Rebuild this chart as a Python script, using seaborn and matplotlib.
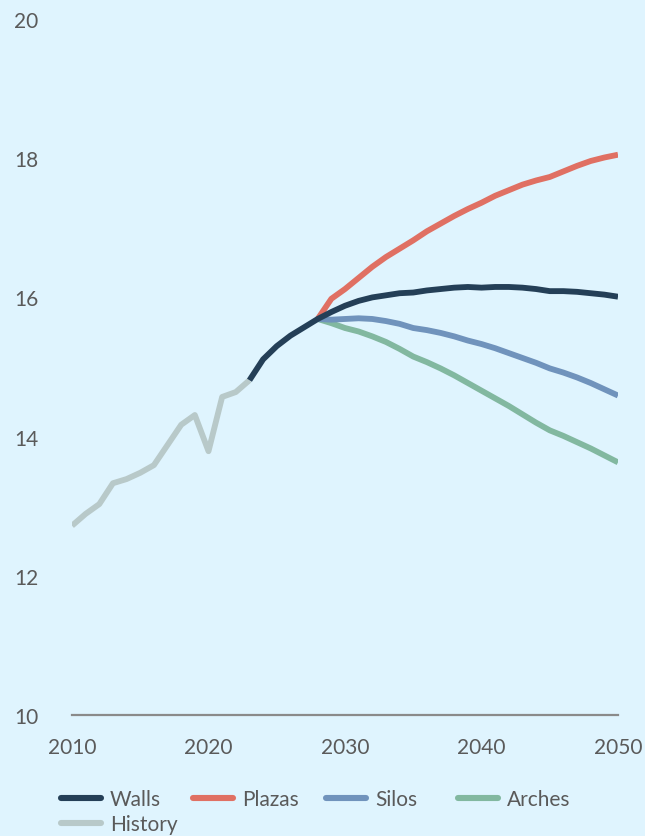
import matplotlib
matplotlib.use("Agg")
import matplotlib.pyplot as plt
import seaborn as sns
import pandas as pd
from matplotlib.lines import Line2D

# Historical series
history_years = list(range(2010, 2024))
history_vals = [12.72, 12.89, 13.03, 13.33, 13.39, 13.48, 13.59, 13.88, 14.17,
                14.31, 13.79, 14.57, 14.64, 14.81]

# Projection years and scenario values
walls_years = list(range(2023, 2051))
walls_vals = [14.81, 15.11, 15.30, 15.45, 15.57, 15.69, 15.79, 15.88, 15.95, 16.00,
              16.03, 16.06, 16.07, 16.10, 16.12, 16.14, 16.15, 16.14, 16.15, 16.15,
              16.14, 16.12, 16.09, 16.09, 16.08, 16.06, 16.04, 16.01]

scen_years = list(range(2028, 2051))
plazas_vals = [15.69, 15.98, 16.12, 16.28, 16.44, 16.58, 16.70, 16.82, 16.95, 17.06,
               17.17, 17.27, 17.36, 17.46, 17.54, 17.62, 17.68, 17.73, 17.81, 17.89,
               17.96, 18.01, 18.05]
silos_vals = [15.69, 15.68, 15.69, 15.70, 15.69, 15.66, 15.62, 15.56, 15.53, 15.49,
              15.44, 15.38, 15.33, 15.27, 15.20, 15.13, 15.06, 14.98, 14.92, 14.85,
              14.77, 14.68, 14.59]
arches_vals = [15.69, 15.63, 15.56, 15.51, 15.44, 15.36, 15.26, 15.15, 15.07, 14.98,
               14.88, 14.77, 14.66, 14.55, 14.44, 14.32, 14.20, 14.09, 14.01, 13.92,
               13.83, 13.73, 13.63]

series_order = ["Walls", "Plazas", "Silos", "Arches", "History"]
colors = ["#243f57", "#e07063", "#7093bc", "#82b8a0", "#b8c9c9"]
y_ticks = [10, 12, 14, 16, 18, 20]
x_ticks = [2010, 2020, 2030, 2040, 2050]

frames = [
    pd.DataFrame({"year": walls_years, "value": walls_vals, "series": "Walls"}),
    pd.DataFrame({"year": scen_years, "value": plazas_vals, "series": "Plazas"}),
    pd.DataFrame({"year": scen_years, "value": silos_vals, "series": "Silos"}),
    pd.DataFrame({"year": scen_years, "value": arches_vals, "series": "Arches"}),
    pd.DataFrame({"year": history_years, "value": history_vals, "series": "History"}),
]
df = pd.concat(frames, ignore_index=True)

bg = "#dff4fe"
text_color = "#5a5a5a"
W, H = 645, 837
FS = 15

sns.set_theme(style="white")
plt.rcParams["font.family"] = ["Lato", "DejaVu Sans"]

fig = plt.figure(figsize=(W / 100, H / 100), dpi=100, facecolor=bg)
ax = fig.add_axes([72 / W, 1 - 716 / H, 546 / W, 696 / H])
ax.set_facecolor(bg)

# draw scenarios in reverse so the Walls line sits on top
palette = dict(zip(series_order, colors))
sns.lineplot(data=df, x="year", y="value", hue="series", hue_order=series_order[::-1],
             palette=palette, linewidth=4.2, ax=ax, legend=False, sort=True,
             estimator=None)
for ln in ax.lines:
    ln.set_solid_joinstyle("round")
    ln.set_solid_capstyle("butt")

ax.set_xlim(2010, 2050)
ax.set_ylim(10, 20)
ax.set_xticks(x_ticks)
ax.set_yticks(y_ticks)
ax.set_xlabel("")
ax.set_ylabel("")

for side in ["top", "right", "left"]:
    ax.spines[side].set_visible(False)
ax.spines["bottom"].set_color("#8a8a8a")
ax.spines["bottom"].set_linewidth(1.6)

ax.tick_params(axis="x", length=0, pad=16, labelsize=FS, labelcolor=text_color)
ax.tick_params(axis="y", length=0, pad=24, labelsize=FS, labelcolor=text_color)

# legend entries laid out on a fixed grid: four per row
legend_slots = [(61, 800), (193, 800), (326, 800), (458, 800), (61, 825)]
for name, col, (px, py) in zip(series_order, colors, legend_slots):
    handle = Line2D([0], [0], color=col, lw=4.4)
    leg = fig.legend([handle], [name], loc="center left",
                     bbox_to_anchor=(px / W, 1 - py / H), frameon=False,
                     fontsize=FS, handlelength=1.92, handletextpad=0.43,
                     borderaxespad=0, borderpad=0)
    for t in leg.get_texts():
        t.set_color(text_color)

fig.savefig("out.png", dpi=100, facecolor=bg)
